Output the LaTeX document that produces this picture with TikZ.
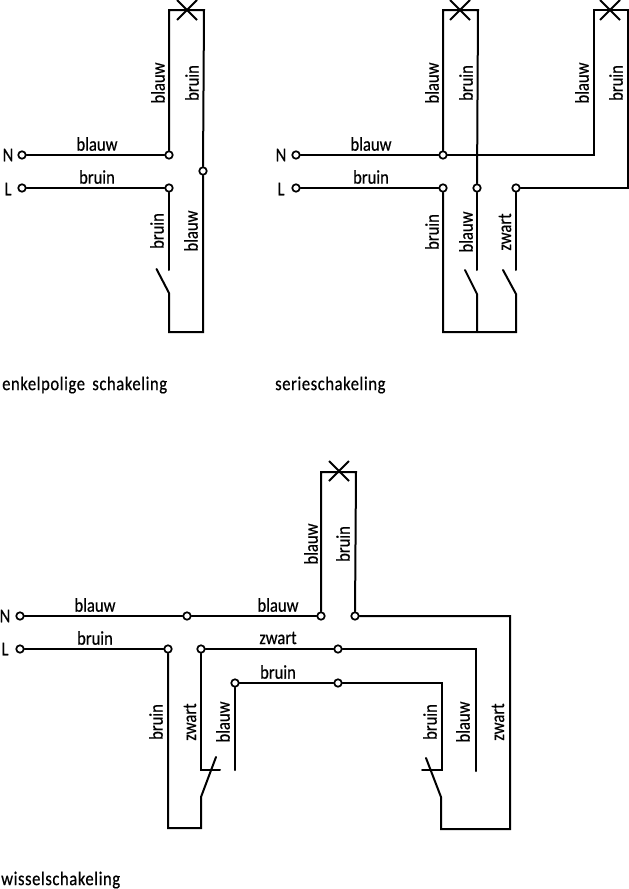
\documentclass[tikz,border=0pt]{standalone}
\usepackage{fontspec}
\setmainfont[FakeStretch=0.85,FakeBold=0.5]{Carlito}
\newfontfamily\capfont[FakeStretch=0.85,FakeBold=0.5,LetterSpace=3]{Carlito}
\begin{document}
\begin{tikzpicture}[x=1pt,y=-1pt,
  wire/.style={line width=2pt,line cap=round,line join=miter,black},
  lamp/.style={line width=2pt,black},
  term/.style={circle,draw=black,fill=white,line width=1.7pt,inner sep=0pt,minimum size=7.5pt},
  lab/.style={font=\fontsize{19.5}{20}\selectfont,inner sep=0pt,text=black},
  vlab/.style={lab,rotate=90},
  captext/.style={lab,anchor=west,font=\capfont\fontsize{19.5}{20}\selectfont}]
\useasboundingbox (0,0) rectangle (629,889);
% ---------- enkelpolige schakeling
\node[term] (aN) at (22,155) {};
\node[term] (aL) at (22,188) {};
\node[term] (aj1) at (169,155) {};
\node[term] (aj2) at (169,188) {};
\node[term] (aj3) at (203,171) {};
\coordinate (aTL) at (169,10);
\coordinate (aTR) at (204,10);
\coordinate (aBL) at (169,332);
\coordinate (aBR) at (203,332);
\coordinate (aS) at (169,270);
\coordinate (aP) at (169,293);
\coordinate (aB) at (156.5,269);
\coordinate (aX1) at (177,0);
\coordinate (aX2) at (197,20);
\coordinate (aX3) at (197,0);
\coordinate (aX4) at (177,20);
\draw[wire] (aN) -- (aj1);
\draw[wire] (aL) -- (aj2);
\draw[wire] (aj1) -- (aTL) -- (aTR) -- (aj3);
\draw[wire] (aj3) -- (aBR) -- (aBL) -- (aP) -- (aB);
\draw[wire] (aj2) -- (aS);
\draw[lamp] (aX1) -- (aX2);
\draw[lamp] (aX3) -- (aX4);
\node[lab] (aNl) at (8,155) {N};
\node[lab] (aLl) at (8,189) {L};
\node[lab] (at1) at (97,144) {blauw};
\node[lab] (at2) at (97,177) {bruin};
\node[vlab] (at3) at (158,83) {blauw};
\node[vlab] (at4) at (192,83) {bruin};
\node[vlab] (at5) at (157,231) {bruin};
\node[vlab] (at6) at (191,231) {blauw};
\node[captext] (acap) at (2,385) {enkelpolige\hspace{3pt} schakeling};
% ---------- serieschakeling
\node[term] (bN) at (296,155) {};
\node[term] (bL) at (296,188) {};
\node[term] (bj1) at (443,155) {};
\node[term] (bj2) at (443,188) {};
\node[term] (bj3) at (477,188) {};
\node[term] (bj4) at (516,188) {};
\coordinate (bTL) at (443,10);
\coordinate (bTR) at (478,10);
\coordinate (cTL) at (594,10);
\coordinate (cTR) at (628,10);
\coordinate (cNc) at (594,155);
\coordinate (cLc) at (628,188);
\coordinate (bB1) at (443,332);
\coordinate (bB2) at (477,332);
\coordinate (bB3) at (516,332);
\coordinate (bS1) at (477,270);
\coordinate (bP1) at (477,294);
\coordinate (bA1) at (465,270);
\coordinate (bS2) at (516,270);
\coordinate (bP2) at (516,294);
\coordinate (bA2) at (503,270);
\draw[wire] (bN) -- (bj1);
\draw[wire] (bL) -- (bj2);
\draw[wire] (bj1) -- (bTL) -- (bTR) -- (bj3);
\draw[wire] (bj1) -- (cNc) -- (cTL) -- (cTR) -- (cLc) -- (bj4);
\draw[wire] (bj2) -- (bB1) -- (bB3) -- (bP2) -- (bA2);
\draw[wire] (bB2) -- (bP1) -- (bA1);
\draw[wire] (bj3) -- (bS1);
\draw[wire] (bj4) -- (bS2);
\draw[lamp] (450,0) -- (470,20);
\draw[lamp] (470,0) -- (450,20);
\draw[lamp] (600,0) -- (620,20);
\draw[lamp] (620,0) -- (600,20);
\node[lab] (bNl) at (281,155) {N};
\node[lab] (bLl) at (281,189) {L};
\node[lab] (bt1) at (371,144) {blauw};
\node[lab] (bt2) at (371,177) {bruin};
\node[vlab] (bt3) at (432,83) {blauw};
\node[vlab] (bt4) at (466,83) {bruin};
\node[vlab] (bt5) at (582,83) {blauw};
\node[vlab] (bt6) at (616,83) {bruin};
\node[vlab] (bt7) at (432,232) {bruin};
\node[vlab] (bt8) at (466,232) {blauw};
\node[vlab] (bt9) at (505,232) {zwart};
\node[captext] (bcap) at (275,385) {serieschakeling};
% ---------- wisselschakeling
\node[term] (dN) at (20,616) {};
\node[term] (dL) at (20,649) {};
\node[term] (dj1) at (187,616) {};
\node[term] (dj2) at (321,616) {};
\node[term] (dj3) at (355,616) {};
\node[term] (dj4) at (168,649) {};
\node[term] (dj5) at (201,649) {};
\node[term] (dj6) at (338,649) {};
\node[term] (dj7) at (235,683) {};
\node[term] (dj8) at (338,683) {};
\coordinate (dTL) at (321,472);
\coordinate (dTR) at (356,472);
\coordinate (dR1) at (510,616);
\coordinate (dR2) at (510,829);
\coordinate (dR3) at (441,829);
\coordinate (dR4) at (441,797);
\coordinate (dRb) at (426,758);
\coordinate (dB1) at (168,828);
\coordinate (dB2) at (201,828);
\coordinate (dB3) at (201,797);
\coordinate (dBb) at (216,757);
\coordinate (dZ1) at (201,770);
\coordinate (dZ2) at (220,770);
\coordinate (dU1) at (235,770);
\coordinate (dV1) at (476,649);
\coordinate (dV2) at (476,771);
\coordinate (dW1) at (442,683);
\coordinate (dW2) at (442,770);
\coordinate (dW3) at (422,770);
\draw[wire] (dN) -- (dj1);
\draw[wire] (dj1) -- (dj2);
\draw[wire] (dj2) -- (dTL) -- (dTR) -- (dj3);
\draw[wire] (dj3) -- (dR1) -- (dR2) -- (dR3) -- (dR4) -- (dRb);
\draw[wire] (dL) -- (dj4);
\draw[wire] (dj4) -- (dB1) -- (dB2) -- (dB3) -- (dBb);
\draw[wire] (dj5) -- (dj6);
\draw[wire] (dj6) -- (dV1) -- (dV2);
\draw[wire] (dj5) -- (dZ1) -- (dZ2);
\draw[wire] (dj7) -- (dU1);
\draw[wire] (dj7) -- (dj8);
\draw[wire] (dj8) -- (dW1) -- (dW2) -- (dW3);
\draw[lamp] (329,461) -- (349,481);
\draw[lamp] (349,461) -- (329,481);
\node[lab] (dNl) at (5,616) {N};
\node[lab] (dLl) at (5,649) {L};
\node[lab] (dt1) at (95,605) {blauw};
\node[lab] (dt2) at (278,605) {blauw};
\node[lab] (dt3) at (95,638) {bruin};
\node[lab] (dt4) at (278,638) {zwart};
\node[lab] (dt5) at (278,672) {bruin};
\node[vlab] (dt6) at (311,544) {blauw};
\node[vlab] (dt7) at (343,544) {bruin};
\node[vlab] (dt8) at (156,722) {bruin};
\node[vlab] (dt9) at (190,722) {zwart};
\node[vlab] (dt10) at (223,722) {blauw};
\node[vlab] (dt11) at (430,722) {bruin};
\node[vlab] (dt12) at (463,722) {blauw};
\node[vlab] (dt13) at (498,722) {zwart};
\node[captext] (dcap) at (1,880) {wisselschakeling};
\end{tikzpicture}
\end{document}
